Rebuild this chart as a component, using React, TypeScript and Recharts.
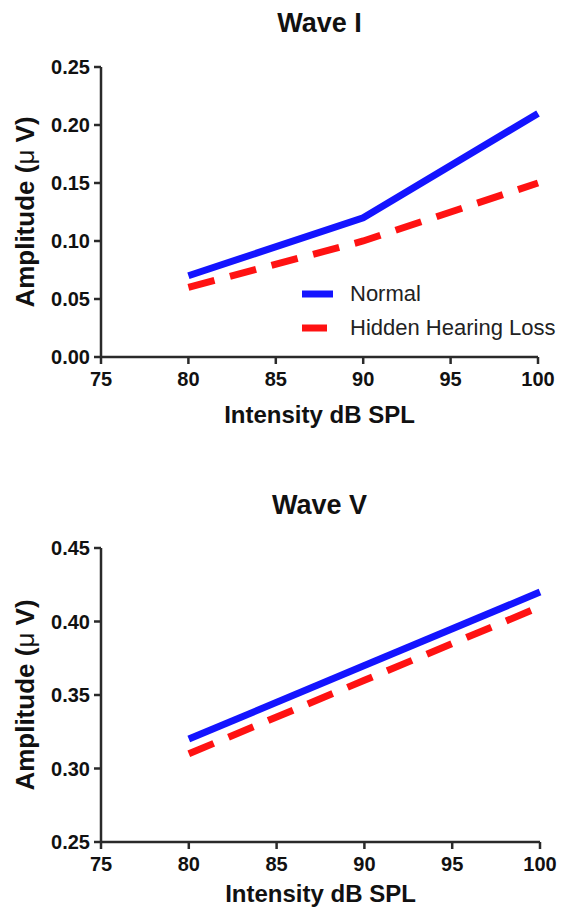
import React from 'react';
import { LineChart, Line, XAxis, YAxis, Legend } from 'recharts';

// intensity levels (dB SPL)
const intensity = [80, 90, 100];
const xTicks = [75, 80, 85, 90, 95, 100];

// Wave I amplitudes (µV)
const waveINormal = [0.07, 0.12, 0.21];
const waveIHidden = [0.06, 0.1, 0.15];
const waveITicks = [0, 0.05, 0.1, 0.15, 0.2, 0.25];

// Wave V amplitudes (µV)
const waveVNormal = [0.32, 0.37, 0.42];
const waveVHidden = [0.31, 0.36, 0.41];
const waveVTicks = [0.25, 0.3, 0.35, 0.4, 0.45];

const FONT = '"Liberation Sans", Arial, Helvetica, sans-serif';
const BLUE = '#1414ff';
const RED = '#ff1212';
const AXIS = '#2a2a2a';

const toRows = (normal: number[], hidden: number[]) =>
  intensity.map((x, i) => ({ x, normal: normal[i], hidden: hidden[i] }));

const tickStyle = { fill: '#111', fontSize: 20, fontWeight: 700, fontFamily: FONT };

const XTitle = (props: any) => {
  const { viewBox, titleGap } = props;
  return (
    <text
      x={viewBox.x + viewBox.width / 2}
      y={viewBox.y + titleGap}
      textAnchor="middle"
      dominantBaseline="central"
      fontSize={24}
      fontWeight={700}
      fontFamily={FONT}
      fill="#111"
    >
      Intensity dB SPL
    </text>
  );
};

const YTitle = (props: any) => {
  const { viewBox } = props;
  const cx = 25;
  const cy = viewBox.y + viewBox.height / 2;
  return (
    <text
      x={cx}
      y={cy}
      transform={`rotate(-90 ${cx} ${cy})`}
      textAnchor="middle"
      dominantBaseline="central"
      fontSize={26}
      fontWeight={700}
      fontFamily={FONT}
      fill="#111"
    >
      Amplitude (<tspan fontWeight={400}>μ</tspan> V)
    </text>
  );
};

const renderLegend = () => (
  <div style={{ fontFamily: FONT, fontSize: 22, color: '#222' }}>
    {[
      { label: 'Normal', color: BLUE, w: 31 },
      { label: 'Hidden Hearing Loss', color: RED, w: 25 },
    ].map((item) => (
      <div key={item.label} style={{ display: 'flex', alignItems: 'center', height: 34, whiteSpace: 'nowrap' }}>
        <svg width={48} height={34} style={{ flex: 'none' }}>
          <line x1={0} x2={item.w} y1={17} y2={17} stroke={item.color} strokeWidth={7} />
        </svg>
        <span>{item.label}</span>
      </div>
    ))}
  </div>
);

type PanelProps = {
  top: number;
  title: string;
  titleY: number;
  rows: { x: number; normal: number; hidden: number }[];
  yTicks: number[];
  marginTop: number;
  plotHeight: number;
  marginRight: number;
  xTitleGap: number;
  showLegend?: boolean;
};

const Panel = ({ top, title, titleY, rows, yTicks, marginTop, plotHeight, marginRight, xTitleGap, showLegend }: PanelProps) => {
  const height = 450;
  return (
    <div style={{ position: 'absolute', left: 0, top, width: 571, height }}>
      <div
        style={{
          position: 'absolute',
          left: 101,
          width: 437,
          top: titleY - 16,
          height: 32,
          lineHeight: '32px',
          textAlign: 'center',
          fontFamily: FONT,
          fontWeight: 700,
          fontSize: 27,
          color: '#111',
        }}
      >
        {title}
      </div>
      <LineChart
        width={571}
        height={height}
        data={rows}
        margin={{ top: marginTop, right: marginRight, bottom: 0, left: 0 }}
      >
        <XAxis
          dataKey="x"
          type="number"
          domain={[75, 100]}
          ticks={xTicks}
          height={height - marginTop - plotHeight}
          tick={tickStyle}
          tickSize={7}
          tickMargin={8}
          stroke={AXIS}
          strokeWidth={2.5}
          tickLine={{ stroke: AXIS, strokeWidth: 2.5 }}
          label={<XTitle titleGap={xTitleGap} />}
        />
        <YAxis
          type="number"
          domain={[yTicks[0], yTicks[yTicks.length - 1]]}
          ticks={yTicks}
          width={101}
          tick={tickStyle}
          tickSize={7}
          tickMargin={4}
          tickFormatter={(v: number) => v.toFixed(2)}
          stroke={AXIS}
          strokeWidth={2.5}
          tickLine={{ stroke: AXIS, strokeWidth: 2.5 }}
          label={<YTitle />}
        />
        {showLegend && (
          <Legend
            layout="vertical"
            align="center"
            verticalAlign="middle"
            content={renderLegend}
            wrapperStyle={{ left: 302, top: 277, width: 269 }}
          />
        )}
        <Line
          dataKey="hidden"
          name="Hidden Hearing Loss"
          stroke={RED}
          strokeWidth={7}
          strokeDasharray="27 16"
          dot={false}
          isAnimationActive={false}
        />
        <Line
          dataKey="normal"
          name="Normal"
          stroke={BLUE}
          strokeWidth={7}
          dot={false}
          isAnimationActive={false}
        />
      </LineChart>
    </div>
  );
};

export default function App() {
  return (
    <div style={{ position: 'absolute', left: 0, top: 0, width: 571, height: 910, background: '#fff' }}>
      <Panel
        top={0}
        title="Wave I"
        titleY={23}
        rows={toRows(waveINormal, waveIHidden)}
        yTicks={waveITicks}
        marginTop={67}
        plotHeight={290}
        marginRight={33}
        xTitleGap={57}
        showLegend
      />
      <Panel
        top={460}
        title="Wave V"
        titleY={45}
        rows={toRows(waveVNormal, waveVHidden)}
        yTicks={waveVTicks}
        marginTop={88}
        plotHeight={294}
        marginRight={31}
        xTitleGap={51}
      />
    </div>
  );
}
